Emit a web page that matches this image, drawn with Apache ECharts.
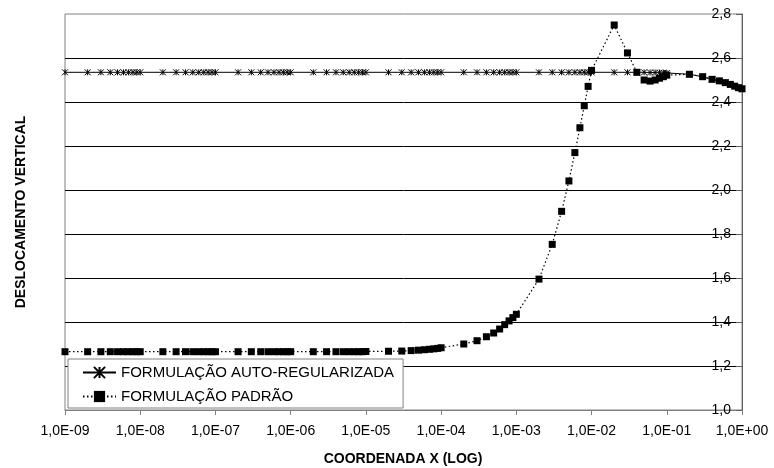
<!DOCTYPE html>
<html>
<head>
<meta charset="utf-8">
<script src="https://cdn.jsdelivr.net/npm/echarts@6/dist/echarts.min.js"></script>
<style>
html,body{margin:0;padding:0;background:#fff;}
#c{width:774px;height:468px;}
</style>
</head>
<body>
<div id="c"></div>
<script>
// ---- data ----
const xValues = [
  1e-9,2e-9,3e-9,4e-9,5e-9,6e-9,7e-9,8e-9,9e-9,
  1e-8,2e-8,3e-8,4e-8,5e-8,6e-8,7e-8,8e-8,9e-8,
  1e-7,2e-7,3e-7,4e-7,5e-7,6e-7,7e-7,8e-7,9e-7,
  1e-6,2e-6,3e-6,4e-6,5e-6,6e-6,7e-6,8e-6,9e-6,
  1e-5,2e-5,3e-5,4e-5,5e-5,6e-5,7e-5,8e-5,9e-5,
  1e-4,2e-4,3e-4,4e-4,5e-4,6e-4,7e-4,8e-4,9e-4,
  1e-3,2e-3,3e-3,4e-3,5e-3,6e-3,7e-3,8e-3,9e-3,
  1e-2,2e-2,3e-2,4e-2,5e-2,6e-2,7e-2,8e-2,9e-2,
  1e-1,2e-1,3e-1,4e-1,5e-1,6e-1,7e-1,8e-1,9e-1,
  1
];
const autoRegularizada = [
  2.535,2.535,2.535,2.535,2.535,2.535,2.535,2.535,2.535,
  2.535,2.535,2.535,2.535,2.535,2.535,2.535,2.535,2.535,
  2.535,2.535,2.535,2.535,2.535,2.535,2.535,2.535,2.535,
  2.535,2.535,2.535,2.535,2.535,2.535,2.535,2.535,2.535,
  2.535,2.535,2.535,2.535,2.535,2.535,2.535,2.535,2.535,
  2.535,2.535,2.535,2.535,2.535,2.535,2.535,2.535,2.535,
  2.535,2.535,2.535,2.535,2.535,2.535,2.535,2.535,2.535,
  2.535,2.535,2.535,2.535,2.535,2.534,2.534,2.533,2.533,
  2.532,2.526,2.515,2.503,2.496,2.488,2.480,2.472,2.465,
  2.460
];
const padrao = [
  1.265,1.265,1.265,1.265,1.265,1.265,1.265,1.265,1.265,
  1.265,1.265,1.265,1.265,1.265,1.265,1.265,1.265,1.265,
  1.265,1.265,1.265,1.265,1.265,1.265,1.265,1.265,1.265,
  1.265,1.265,1.265,1.265,1.265,1.265,1.265,1.265,1.265,
  1.266,1.267,1.268,1.270,1.272,1.274,1.276,1.278,1.280,
  1.283,1.300,1.315,1.333,1.350,1.368,1.388,1.405,1.420,
  1.435,1.595,1.753,1.903,2.041,2.170,2.283,2.383,2.471,
  2.544,2.750,2.623,2.535,2.500,2.495,2.500,2.508,2.515,
  2.522,2.526,2.515,2.503,2.496,2.488,2.480,2.472,2.465,
  2.460
];
const xTickLabels = ['1,0E-09','1,0E-08','1,0E-07','1,0E-06','1,0E-05','1,0E-04','1,0E-03','1,0E-02','1,0E-01','1,0E+00'];
const seriesNames = ['FORMULAÇÃO AUTO-REGULARIZADA','FORMULAÇÃO PADRÃO'];
const xTitle = 'COORDENADA X (LOG)';
const yTitle = 'DESLOCAMENTO VERTICAL';

const pair = (ys) => xValues.map((x, i) => [x, ys[i]]);
const FONT = 'Liberation Sans, Arial, sans-serif';
const starPath = 'path://M5,0L5,10M0,0L10,10M10,0L0,10';

const chart = echarts.init(document.getElementById('c'), null, {renderer: 'canvas'});
chart.setOption({
  animation: false,
  backgroundColor: '#fff',
  grid: {left: 65, right: 32, top: 14, bottom: 58, show: true, borderColor: '#808080', borderWidth: 1, backgroundColor: 'transparent'},
  xAxis: {
    type: 'log', logBase: 10, min: 1e-9, max: 1, splitNumber: 10,
    axisLine: {show: true, lineStyle: {color: '#808080', width: 1}},
    axisTick: {show: true, length: 5, lineStyle: {color: '#808080'}},
    minorTick: {show: false},
    splitLine: {show: false},
    axisLabel: {
      fontFamily: FONT, fontSize: 14, color: '#000', margin: 14,
      formatter: (v) => {
        const e = Math.round(Math.log10(v));
        return xTickLabels[e + 9] || '';
      }
    }
  },
  yAxis: {
    type: 'value', position: 'right', min: 1, max: 2.8, interval: 0.2,
    axisLine: {show: true, lineStyle: {color: '#606060', width: 1}},
    axisTick: {show: true, inside: true, length: 6, lineStyle: {color: '#606060'}},
    splitLine: {show: true, showMinLine: false, showMaxLine: false, lineStyle: {color: '#000', width: 1}},
    axisLabel: {
      inside: true, fontFamily: FONT, fontSize: 14, color: '#000', margin: 11,
      formatter: (v) => v.toFixed(1).replace('.', ',')
    }
  },
  legend: {
    orient: 'vertical', left: 68, top: 359,
    backgroundColor: '#fff', borderColor: '#808080', borderWidth: 1,
    padding: [6, 9, 4, 14], itemGap: 9, itemWidth: 33, itemHeight: 14,
    textStyle: {fontFamily: FONT, fontSize: 15, color: '#000'},
    data: seriesNames
  },
  series: [
    {
      name: seriesNames[0], type: 'line', data: pair(autoRegularizada),
      symbol: starPath, symbolSize: 6, showAllSymbol: true,
      itemStyle: {color: '#000', borderColor: '#000', borderWidth: 1},
      lineStyle: {color: '#000', width: 1, type: 'solid'},
      z: 2
    },
    {
      name: seriesNames[1], type: 'line', data: pair(padrao),
      symbol: 'rect', symbolSize: 7, showAllSymbol: true,
      itemStyle: {color: '#000'},
      lineStyle: {color: '#000', width: 1.2, type: [1.5, 2.5]},
      z: 3
    }
  ],
  graphic: [
    {type: 'text', x: 403, y: 459, style: {text: xTitle, font: 'bold 14px ' + FONT, fill: '#000', align: 'center', verticalAlign: 'middle'}},
    {type: 'text', x: 21, y: 212, rotation: Math.PI / 2, style: {text: yTitle, font: 'bold 14px ' + FONT, fill: '#000', align: 'center', verticalAlign: 'middle'}}
  ]
});
</script>
</body>
</html>
